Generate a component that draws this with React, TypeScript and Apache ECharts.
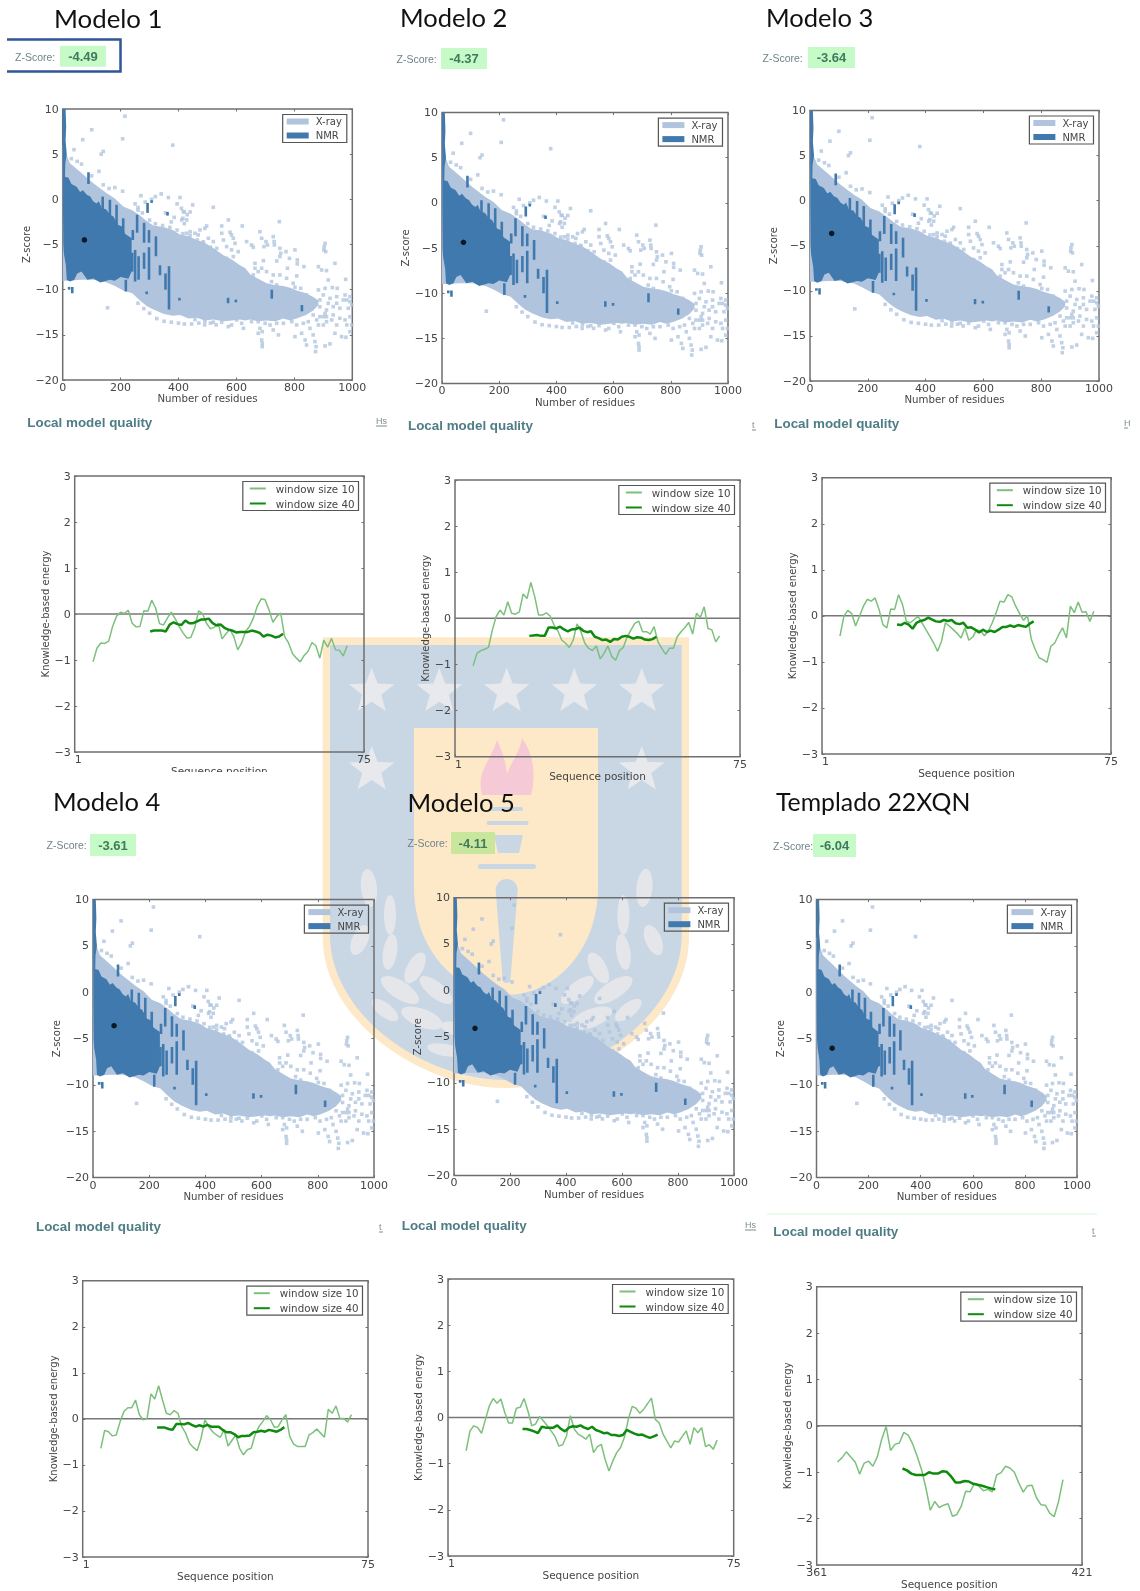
import React, { useEffect, useRef } from "react";
import * as echarts from "echarts";

// ---------- data ----------
const modelNames = ["Modelo 1", "Modelo 2", "Modelo 3", "Modelo 4", "Modelo 5", "Templado 22XQN"];
const zScores = ["-4.49", "-4.37", "-3.64", "-3.61", "-4.11", "-6.04"];
const modelResidues = [75, 75, 75, 75, 75, 60];
const modelZ = [-4.49, -4.37, -3.64, -3.61, -4.11, -6.04];

const xrayX = [0, 25, 60, 106, 152, 180, 209, 240, 267, 290, 313, 350, 380, 405, 435, 463, 490, 520, 555, 585, 612, 630, 647, 675, 704, 735, 762, 785, 808, 840, 865, 883];
const xrayUpper = [6, 4, 3.06, 1.77, 0.66, 0.1, -0.8, -1.2, -1.8, -2.4, -2.9, -3.1, -3.4, -3.9, -4.1, -4.5, -4.8, -5.4, -6.2, -6.7, -7.3, -7.6, -8.3, -8.8, -9.3, -9.5, -9.6, -9.8, -10.1, -10.4, -10.8, -11.2];
const xrayLower = [-9, -9, -8.9, -8.9, -9.2, -9.6, -10.1, -10.4, -11.2, -11.8, -12.2, -12.7, -12.9, -12.8, -13.2, -13.1, -13.4, -13.3, -13.5, -13.4, -13.3, -13.4, -13.3, -13.5, -13.4, -13.5, -13.2, -13.4, -13.2, -12.8, -12.3, -11.7];

const xrayPointsLeft = [
  [215, 9.2], [100, 7.7], [207, 6.7], [69, 6.6], [380, 6], [140, 5.3], [133, 5], [39, 5.5], [125, 3.1], [65, 3.9], [50, 4.2], [30, 4.5], [100, 2.6], [140, 1.6], [160, 1.2], [180, 1.3], [207, 0.9], [270, 0.4], [307, 0], [340, 0.6], [320, 0.3], [365, 0.2], [405, 0.2], [285, -0.3], [250, -0.5], [260, -0.9], [395, -0.5], [410, -1], [420, -1.4], [440, -1.4], [430, -1.7], [415, -2.1], [420, -2.7], [385, -2], [355, -1.5], [375, -2.5], [155, -12],
  [260, -1.2], [275, -1.5], [300, -2.3], [320, -2.7], [345, -2.9], [370, -3.1], [395, -3.4], [415, -3.8], [440, -4], [465, -4.5], [485, -4.7], [510, -5.3],
  [300, -12.6], [325, -13.2], [350, -13.5], [375, -13.6], [400, -13.7], [420, -13.8], [445, -13.8], [470, -13.7], [490, -13.9], [510, -13.7], [530, -13.9], [280, -12.1], [260, -11.5],
];
const xrayPointsUpperRight = [
  [416.5, -1.36], [428, -2.28], [411, -2.28], [449, -0.62], [520, -0.88], [572, -2.28], [620, -2.95], [497, -2.95], [491, -3.21], [474, -3.39], [457, -3.76], [468, -3.94], [440, -3.58], [428, -3.76], [549, -2.95], [549, -3.76], [578, -3.65], [583, -3.94], [589, -4.31], [595, -4.87], [555, -4.5], [520, -4.68], [503, -4.31], [486, -4.87], [532, -5.42], [566, -5.24], [583, -5.6], [606, -5.79], [589, -6.34], [566, -6.53], [578, -7.08], [595, -7.27], [543, -6.53], [520, -5.71],
  [635, -4.68], [652, -5.05], [658, -5.31], [681, -3.58], [687, -4.31], [702, -4.68], [707, -5.05], [695, -5.24], [727, -4.13], [730, -4.68], [731, -5.05], [748, -2.47], [750, -5.42], [753, -5.97], [750, -6.34], [771, -5.79], [802, -5.6], [783, -6.53], [810, -6.71], [810, -7.15], [833, -7.45], [739, -6.82], [693, -6.79], [664, -7.08], [664, -7.63], [675, -8], [687, -7.63], [658, -8.37], [704, -8], [727, -8.37], [776, -7.63], [808, -8.48], [750, -8.37], [773, -8.74], [796, -9.3], [802, -9.74], [822, -9.85], [842, -10.59], [721, -9.11], [739, -9.48],
  [906, -4.87], [903, -5.24], [902, -5.6], [908, -5.79], [940, -7.08], [883, -7.45], [894, -7.82], [911, -7.89], [917, -8.93], [977, -8.85], [883, -10.03], [906, -9.85], [931, -9.77], [948, -9.85], [900, -10.59], [923, -10.96], [946, -10.77], [975, -10.59], [992, -10.77], [992, -11.32], [981, -11.14], [998, -11.69],
];
const xrayPointsLowerRight = [
  [572, -14.09], [583, -13.91], [618, -13.72], [624, -14.28], [675, -13.54], [681, -14.28], [675, -14.83], [689, -14.65], [687, -15.57], [689, -15.94], [689, -16.31], [716, -13.91], [727, -14.46], [745, -15.01], [762, -13.72], [791, -13.54], [808, -13.91], [802, -15.2], [825, -14.83], [837, -15.57], [842, -16.12], [871, -15.75], [875, -16.31], [873, -16.86], [865, -15.01], [854, -14.28], [883, -13.91], [900, -13.91], [911, -13.54], [888, -12.99], [906, -12.62], [934, -12.8], [946, -13.91], [957, -13.17], [975, -13.35], [981, -13.91], [940, -14.83], [963, -15.2], [978, -15.27], [906, -16.23], [923, -16.01], [992, -14.65], [998, -13.91], [992, -12.99],
  [888, -11.9], [911, -12.25], [934, -11.88], [957, -12.06], [888, -11.14], [917, -11.51], [946, -11.51], [969, -11.14], [986, -12.06], [900, -12.99], [865, -12.8], [877, -13.35], [911, -12.99], [929, -13.35], [848, -13.54], [831, -13.72], [791, -12.98], [739, -13.72], [699, -13.72], [652, -13.54], [601, -13.35], [549, -13.6], [520, -13.6], [491, -13.5], [457, -13.3],
];

const nmrUpper = [[0, 10], [10, 10], [12, 8], [10, 6.5], [14, 5], [9, 4], [8, 2.5], [20, 2.4], [30, 1.7], [48, 1.4], [60, 0.8], [70, 1], [83, 0.5], [95, 0.3], [105, -0.2], [117, -0.45], [125, -0.2], [135, -1], [150, -1.1], [163, -1.7], [175, -1.9], [192, -2.85], [205, -3], [215, -3.8], [238, -4.3]];
const nmrLower = [[238, -8], [227, -8.8], [200, -8.6], [180, -9], [163, -8.9], [130, -9.2], [106, -8.75], [85, -8.9], [65, -8], [50, -8.2], [40, -8.9], [25, -9.1], [14, -8.9], [11, -7.3], [4, -6], [2, -5], [1, -1]];
const nmrColumns = [
  [89, 1.7, 3], [138, -2.3, 0.3], [163, -2.3, -0.05], [186, -3, -0.6], [209, -4.5, -2.1], [257, -3.7, -1.7], [293, -1.5, -0.4], [281, -4.8, -2.6], [242, -4.5, -3.4], [298, -4.8, -3.4], [322, -6.3, -4.1], [240, -8, -5.9], [250, -9.1, -5.6], [262, -8.9, -6.3], [281, -7.7, -5.9], [298, -8.9, -5.3], [336, -8.4, -7.3], [355, -10, -8.2], [367, -12.2, -7.4], [218, -10.2, -8.9], [33, -10.4, -9.7], [22, -10, -9.7], [290, -10.5, -10.2], [403, -11.2, -10.9], [571, -11.5, -10.9], [598, -11.4, -11.1], [722, -11, -10], [826, -12.4, -11.7], [307, -0.4, -0.1], [362, -1.8, -1.4],
];

const window10Starts = [5.7, 5.7, 5.6, 5.7, 5.7, 365.7];
const window40Starts = [20.3, 20.3, 20.2, 20.3, 20.3, 380.4];
const sequenceRanges = [[1, 75], [1, 75], [1, 75], [1, 75], [1, 75], [361, 421]];

const w10m1 = [-1.04, -0.74, -0.63, -0.64, -0.59, -0.27, -0.05, 0.04, 0.01, 0.08, -0.2, -0.28, -0.27, 0.07, 0.06, 0.3, 0.13, -0.21, -0.24, -0.09, 0.04, -0.1, -0.27, -0.41, -0.52, -0.51, -0.3, 0.07, 0.01, -0.2, -0.32, -0.29, -0.2, -0.54, -0.43, -0.33, -0.49, -0.78, -0.63, -0.38, -0.27, -0.09, 0.17, 0.33, 0.31, 0.09, -0.18, -0.05, 0.02, -0.49, -0.63, -0.86, -0.96, -1.04, -0.9, -0.81, -0.62, -0.69, -0.96, -0.57, -0.72, -0.53, -0.78, -0.79, -0.91, -0.69];
const w40m1 = [-0.38, -0.36, -0.36, -0.36, -0.38, -0.23, -0.18, -0.22, -0.24, -0.14, -0.2, -0.2, -0.16, -0.12, -0.12, -0.1, -0.2, -0.25, -0.23, -0.3, -0.34, -0.36, -0.4, -0.39, -0.39, -0.39, -0.36, -0.38, -0.41, -0.49, -0.45, -0.47, -0.51, -0.49, -0.43];
const w10m2 = [-1.03, -0.76, -0.7, -0.67, -0.63, -0.25, 0.04, 0.18, 0.07, 0.36, 0.11, 0.09, 0.14, 0.53, 0.43, 0.78, 0.47, 0.07, 0.07, 0.12, 0.05, -0.14, -0.27, -0.47, -0.54, -0.63, -0.47, -0.12, -0.29, -0.54, -0.65, -0.7, -0.6, -0.88, -0.76, -0.6, -0.83, -0.91, -0.7, -0.63, -0.4, -0.25, -0.11, -0.06, -0.29, -0.29, -0.34, -0.18, -0.51, -0.65, -0.78, -0.65, -0.65, -0.4, -0.29, -0.2, -0.09, -0.34, 0.11, 0.02, 0.25, -0.22, -0.25, -0.51, -0.38];
const w40m2 = [-0.38, -0.37, -0.36, -0.38, -0.38, -0.2, -0.2, -0.22, -0.18, -0.24, -0.28, -0.24, -0.23, -0.2, -0.27, -0.3, -0.28, -0.4, -0.43, -0.47, -0.46, -0.51, -0.45, -0.46, -0.4, -0.38, -0.4, -0.44, -0.41, -0.42, -0.46, -0.47, -0.45, -0.4];
const w10m3 = [-0.44, -0.01, 0.12, 0.05, -0.22, -0.01, 0.21, 0.36, 0.32, 0.39, 0.14, -0.19, -0.26, 0.15, 0.14, 0.46, 0.25, -0.12, -0.15, -0.08, -0.01, -0.15, -0.3, -0.44, -0.59, -0.77, -0.55, -0.15, -0.22, -0.3, -0.38, -0.48, -0.26, -0.53, -0.46, -0.3, -0.33, -0.43, -0.33, -0.15, 0.07, 0.32, 0.3, 0.46, 0.41, 0.21, 0.05, -0.1, 0.01, -0.51, -0.73, -0.91, -0.95, -1.01, -0.66, -0.59, -0.41, -0.26, -0.48, 0.21, 0.07, 0.3, 0.08, 0.09, -0.12, 0.1];
const w40m3 = [-0.19, -0.2, -0.15, -0.19, -0.28, -0.15, -0.11, -0.09, -0.04, -0.08, -0.12, -0.13, -0.09, -0.11, -0.09, -0.16, -0.18, -0.15, -0.26, -0.25, -0.3, -0.36, -0.3, -0.35, -0.32, -0.35, -0.3, -0.24, -0.24, -0.21, -0.24, -0.2, -0.22, -0.24, -0.17, -0.12];
const w10m4 = [-0.64, -0.25, -0.28, -0.37, -0.35, -0.06, 0.16, 0.24, 0.24, 0.41, 0.09, -0.02, 0.01, 0.54, 0.43, 0.72, 0.41, 0.12, 0.09, 0.18, 0.12, -0.17, -0.31, -0.53, -0.62, -0.69, -0.42, -0.02, -0.17, -0.28, -0.35, -0.4, -0.24, -0.59, -0.47, -0.35, -0.64, -0.78, -0.67, -0.64, -0.35, -0.17, -0.06, 0.07, -0.02, -0.18, -0.17, -0.02, 0.09, -0.38, -0.55, -0.6, -0.6, -0.6, -0.35, -0.3, -0.22, -0.31, -0.4, 0.21, 0.12, 0.28, 0.01, 0.01, -0.07, 0.09];
const w40m4 = [-0.19, -0.19, -0.19, -0.22, -0.24, -0.11, -0.11, -0.12, -0.09, -0.13, -0.17, -0.14, -0.17, -0.13, -0.17, -0.17, -0.17, -0.24, -0.29, -0.29, -0.33, -0.4, -0.37, -0.37, -0.36, -0.29, -0.28, -0.26, -0.28, -0.24, -0.26, -0.28, -0.24, -0.18];
const w10m5 = [-0.72, -0.29, -0.18, -0.22, -0.34, -0.04, 0.25, 0.41, 0.31, 0.4, 0.11, -0.12, -0.12, 0.2, 0.22, 0.41, 0.14, -0.18, -0.14, 0.02, -0.07, -0.18, -0.29, -0.41, -0.62, -0.59, -0.4, 0.04, -0.25, -0.36, -0.41, -0.47, -0.36, -0.76, -0.63, -0.58, -0.91, -1.16, -0.94, -0.76, -0.65, -0.43, -0.04, 0.24, 0.2, 0.09, 0.18, 0.3, 0.42, -0.04, -0.12, -0.36, -0.51, -0.66, -0.51, -0.53, -0.41, -0.29, -0.58, -0.22, -0.33, -0.22, -0.63, -0.59, -0.69, -0.49];
const w40m5 = [-0.25, -0.25, -0.27, -0.3, -0.34, -0.2, -0.22, -0.22, -0.22, -0.17, -0.25, -0.3, -0.22, -0.19, -0.2, -0.17, -0.22, -0.25, -0.2, -0.27, -0.3, -0.34, -0.33, -0.38, -0.38, -0.4, -0.38, -0.27, -0.31, -0.35, -0.38, -0.37, -0.41, -0.44, -0.41, -0.37];
const w10m6 = [-0.78, -0.69, -0.56, -0.67, -0.78, -1.04, -0.81, -0.76, -0.87, -0.67, -0.29, -0.01, -0.53, -0.4, -0.37, -0.14, -0.2, -0.39, -0.65, -0.94, -1.34, -1.82, -1.63, -1.76, -1.71, -1.68, -1.95, -1.91, -1.73, -1.41, -1.42, -1.24, -1.3, -1.4, -1.37, -1.42, -1.06, -1.01, -0.87, -0.91, -1.0, -1.23, -1.43, -1.29, -1.28, -1.55, -1.7, -1.71, -1.88, -1.96, -1.63, -1.16];
const w40m6 = [-0.92, -0.96, -1.03, -1.06, -1.06, -1.06, -1, -1.03, -1.03, -0.98, -0.99, -1.09, -1.22, -1.22, -1.19, -1.2, -1.25, -1.27, -1.29, -1.32, -1.35, -1.37];
const window10 = [w10m1, w10m2, w10m3, w10m4, w10m5, w10m6];
const window40 = [w40m1, w40m2, w40m3, w40m4, w40m5, w40m6];

const scatterYTicks = { min: -20, max: 10, step: 5 };
const energyYTicks = { min: -3, max: 3, step: 1 };

// ---------- layout ----------
const scatterFrames = [[62.7, 109, 352.3, 380], [442, 112.6, 728, 383.4], [810, 110.5, 1099, 381], [93, 899.6, 374, 1177.5], [454, 897.7, 734, 1175.4], [816.5, 899.6, 1077, 1177.5]];
const lineFrames = [[74.7, 476, 364, 752], [455, 480, 740, 756.7], [822, 477.7, 1111, 754], [82.7, 1280.7, 368, 1557], [448, 1279, 733.7, 1556], [816.7, 1286.7, 1082, 1565]];
const titlePos = [[54, 17.5], [400, 17], [766, 17], [53, 801], [407.5, 801.5], [776, 801]];
const titleSizes = [25.8, 25.5, 25.5, 25.5, 25.5, 24.8];
const zLabelPos = [[15, 57], [396.5, 58.5], [762.5, 57.5], [46.5, 845], [407.5, 843], [773, 845.5]];
const zBoxes = [[60, 45.7, 46, 21], [441, 48, 46, 21], [808, 47, 47, 21], [90, 834, 46, 22], [451, 832, 44, 22], [813, 834, 43, 23]];
const qualityPos = [[27.3, 422], [408, 425.7], [774.3, 423], [36, 1226.7], [401.7, 1225], [773.3, 1231]];
const linkPos = [[376, 421, "Hs"], [752, 425, "t"], [1124, 423, "H"], [379, 1227, "t"], [745, 1225, "Hs"], [1092, 1231, "t"]];

const FRAME = "#6f6f6f";
const TEXT = "#454545";
const MONO = "DejaVu Sans";
const XRAY = "#b0c4de";
const NMR = "#4079ae";
const LEAF = "#e4e6ea";
const BLUE = "#c9d6e4";
const CREAM = "#fde9c8";

const minusFmt = (v: number) => String(v).replace("-", "\u2212");

echarts.graphic.registerShape("shieldOuter", echarts.graphic.extendPath("M322.7 637.3 H689 V937 C689 1020 592 1088 506 1088 C420 1088 322.7 1020 322.7 937 Z", {}));
echarts.graphic.registerShape("shieldInner", echarts.graphic.extendPath("M330 645 H681.7 V935 C681.7 1014 590 1080 506 1080 C422 1080 330 1014 330 935 Z", {}));
echarts.graphic.registerShape("shieldPanel", echarts.graphic.extendPath("M414 728 H598 V887 C598 950 555 995 506 995 C457 995 414 950 414 887 Z", {}));
echarts.graphic.registerShape("flame", echarts.graphic.extendPath("M482 795 C476 772 490 762 497 740 C503 752 506 764 507 774 C511 762 520 752 522 738 C532 752 537 772 531 795 Z", {}));
echarts.graphic.registerShape("torchHandle", echarts.graphic.extendPath("M495.7 890 A11 11 0 0 1 517.7 890 L510.5 979 A4 4 0 0 1 502.5 979 Z", {}));

function starPoints(cx: number, cy: number, r: number) {
  const pts: number[][] = [];
  for (let i = 0; i < 10; i++) {
    const a = -Math.PI / 2 + (i * Math.PI) / 5;
    const rr = i % 2 === 0 ? r : r * 0.42;
    pts.push([cx + rr * Math.cos(a), cy + rr * Math.sin(a)]);
  }
  return pts;
}

function watermark(): any[] {
  const z = -10;
  const els: any[] = [
    { type: "shieldOuter", x: 0, y: 0, z, silent: true, style: { fill: CREAM } },
    { type: "shieldInner", x: 0, y: 0, z, silent: true, style: { fill: BLUE } },
    { type: "shieldPanel", x: 0, y: 0, z, silent: true, style: { fill: CREAM } },
    { type: "flame", x: 0, y: 0, z, silent: true, style: { fill: "#f6c9d6" } },
    { type: "torchHandle", x: 0, y: 0, z, silent: true, style: { fill: BLUE } },
    { type: "rect", z, silent: true, shape: { x: 490, y: 807, width: 33, height: 4, r: 2 }, style: { fill: BLUE } },
    { type: "rect", z, silent: true, shape: { x: 486.5, y: 821, width: 42, height: 4, r: 2 }, style: { fill: BLUE } },
    { type: "polygon", z, silent: true, shape: { points: [[494, 835], [523, 835], [519, 853], [498, 853]] }, style: { fill: BLUE } },
    { type: "rect", z, silent: true, shape: { x: 478, y: 864, width: 58, height: 5, r: 2.5 }, style: { fill: BLUE } },
  ];
  [[371.7, 691.7], [439.3, 691.7], [506.7, 691.7], [574.3, 691.7], [641.7, 691.7], [371.7, 770], [641.7, 770]].forEach(([cx, cy]) =>
    els.push({ type: "polygon", z, silent: true, shape: { points: starPoints(cx, cy, 24) }, style: { fill: "#e7e9ed" } })
  );
  // laurel leaves, mirrored around the shield's axis
  const leaves = [[369, 888, 8, 19, 0.1], [390, 915, 6, 20, 0], [360, 940, 8, 16, -0.4], [390, 952, 7, 18, -0.15], [415, 968, 8, 17, -0.5], [400, 990, 9, 22, 1.0], [436, 990, 8, 20, 0.9], [385, 1010, 7, 16, 0.9], [422, 1018, 9, 22, 1.2], [460, 1030, 7, 20, 1.3], [445, 1050, 6, 18, 1.4]];
  leaves.forEach(([cx, cy, rx, ry, rot]) => {
    els.push({ type: "ellipse", z, silent: true, x: cx, y: cy, rotation: rot, shape: { cx: 0, cy: 0, rx, ry }, style: { fill: LEAF } });
    els.push({ type: "ellipse", z, silent: true, x: 1013.4 - cx, y: cy, rotation: -rot, shape: { cx: 0, cy: 0, rx, ry }, style: { fill: LEAF } });
  });
  return els;
}

function labels(): any[] {
  const els: any[] = [];
  const z = 20;
  const txt = (x: number, y: number, text: string, font: string, fill: string) => ({
    type: "text", x, y, z, silent: true, style: { text, font, fill, align: "left", verticalAlign: "middle" },
  });
  modelNames.forEach((name, i) => {
    els.push(txt(titlePos[i][0], titlePos[i][1], name, `${titleSizes[i]}px Lato`, "#111"));
    const [bx, by, bw, bh] = zBoxes[i];
    els.push({ type: "rect", z, silent: true, shape: { x: bx, y: by, width: bw, height: bh }, style: { fill: i === 4 ? "#c9e79c" : "#c6fac6" } });
    els.push({ type: "text", x: bx + bw / 2, y: by + bh / 2, z, silent: true, style: { text: zScores[i], font: "bold 13px 'Liberation Sans'", fill: "#3f7a5f", align: "center", verticalAlign: "middle" } });
    els.push(txt(zLabelPos[i][0], zLabelPos[i][1], "Z-Score:", "10.5px 'Liberation Sans'", "#6f8488"));
    els.push(txt(qualityPos[i][0], qualityPos[i][1], "Local model quality", "bold 13.4px 'Liberation Sans'", "#4f7d85"));
    const [lx, ly, ls] = linkPos[i] as [number, number, string];
    els.push(txt(lx, ly, ls, "9px 'Liberation Sans'", "#7d8d90"));
    els.push({ type: "line", z, silent: true, shape: { x1: lx, y1: ly + 5, x2: lx + (ls === "Hs" ? 11 : 4), y2: ly + 5 }, style: { stroke: "#7d8d90", lineWidth: 1 } });
  });
  els.push({ type: "polyline", z, silent: true, shape: { points: [[7, 39.5], [120.5, 39.5], [120.5, 71.5], [7, 71.5]] }, style: { stroke: "#2f5597", lineWidth: 2.5, fill: "none" } });
  els.push({ type: "line", z, silent: true, shape: { x1: 767, y1: 1214, x2: 1097, y2: 1214 }, style: { stroke: "#d7f5d7", lineWidth: 1 } });
  // the reference crops the first x-axis title with its next title block
  els.push({ type: "rect", z: 30, silent: true, shape: { x: 160, y: 772, width: 120, height: 5 }, style: { fill: "#fff" } });
  return els;
}

const polygonItem = (pts: number[][]) => (params: any, api: any) => {
  if (params.dataIndex !== 0) return undefined;
  return { type: "polygon", shape: { points: pts.map((p) => api.coord(p)) }, style: { fill: api.visual("color") } };
};

const columnItem = (params: any, api: any) => {
  const a = api.coord([api.value(0), api.value(1)]);
  const b = api.coord([api.value(0), api.value(2)]);
  return { type: "rect", shape: { x: a[0] - 1.3, y: b[1], width: 2.6, height: a[1] - b[1] }, style: { fill: api.visual("color") } };
};

function buildOption() {
  const grid: any[] = [], xAxis: any[] = [], yAxis: any[] = [], series: any[] = [], legend: any[] = [];
  const tickStyle = { color: FRAME, width: 1 };
  const hiddenLine = { show: false, onZero: false };
  const xrayPolygon = [...xrayX.map((x, k) => [x, xrayUpper[k]]), ...xrayX.map((x, k) => [x, xrayLower[k]]).reverse()];
  const nmrPolygon = [...nmrUpper, ...nmrLower];
  const xrayPoints = [...xrayPointsLeft, ...xrayPointsUpperRight, ...xrayPointsLowerRight];

  const addPanel = (frame: number[], xCfg: any, yCfg: any) => {
    const [l, t, r, b] = frame;
    const g = grid.length;
    grid.push({ left: l, top: t, width: r - l, height: b - t, show: true, borderColor: FRAME, borderWidth: 1.5, backgroundColor: "transparent", containLabel: false });
    const ax = xAxis.length, ay = yAxis.length;
    const custom = xCfg.customValues ? { customValues: xCfg.customValues } : {};
    xAxis.push({ type: "value", gridIndex: g, position: "bottom", axisLine: hiddenLine, splitLine: { show: false }, axisTick: { inside: true, length: 2.5, lineStyle: tickStyle, ...custom }, ...xCfg.axis,
      axisLabel: { color: TEXT, fontFamily: MONO, fontSize: 11, margin: 2, hideOverlap: false, formatter: (v: number) => String(v), ...custom, ...(xCfg.labelExtra || {}) },
      name: xCfg.name, nameLocation: "middle", nameGap: xCfg.nameGap, nameTextStyle: { color: TEXT, fontFamily: MONO, fontSize: xCfg.nameSize } });
    xAxis.push({ type: "value", gridIndex: g, position: "top", axisLine: hiddenLine, splitLine: { show: false }, axisLabel: { show: false }, axisTick: { inside: true, length: 2.5, lineStyle: tickStyle, ...custom }, ...xCfg.axis });
    yAxis.push({ type: "value", gridIndex: g, position: "left", min: yCfg.min, max: yCfg.max, interval: yCfg.step, axisLine: hiddenLine, splitLine: { show: false }, axisTick: { inside: true, length: 2.5, lineStyle: tickStyle },
      axisLabel: { color: TEXT, fontFamily: MONO, fontSize: 11, margin: 4, formatter: minusFmt },
      name: yCfg.name, nameLocation: "middle", nameGap: yCfg.nameGap, nameTextStyle: { color: TEXT, fontFamily: MONO, fontSize: 10 } });
    yAxis.push({ type: "value", gridIndex: g, position: "right", min: yCfg.min, max: yCfg.max, interval: yCfg.step, axisLine: hiddenLine, splitLine: { show: false }, axisLabel: { show: false }, axisTick: { inside: true, length: 2.5, lineStyle: tickStyle } });
    return { xAxisIndex: ax, yAxisIndex: ay, right: 1140 - r + 5.5, top: t + 5.5 };
  };

  scatterFrames.forEach((frame, i) => {
    const p = addPanel(frame,
      { axis: { min: 0, max: 1000, interval: 200 }, name: "Number of residues", nameGap: 11.5, nameSize: 10.2 },
      { ...scatterYTicks, name: "Z-score", nameGap: 25 });
    const axes = { xAxisIndex: p.xAxisIndex, yAxisIndex: p.yAxisIndex };
    const op = i === 4 ? 0.86 : 1;
    series.push({ type: "custom", name: "X-ray", ...axes, coordinateSystem: "cartesian2d", clip: true, renderItem: polygonItem(xrayPolygon), data: xrayPolygon, encode: { x: 0, y: 1 }, itemStyle: { color: XRAY, opacity: op }, z: 2 });
    series.push({ type: "scatter", name: "X-ray", ...axes, data: xrayPoints, symbol: "rect", symbolSize: 3.6, itemStyle: { color: XRAY }, z: 2, silent: true });
    series.push({ type: "custom", name: "NMR", ...axes, coordinateSystem: "cartesian2d", clip: true, renderItem: polygonItem(nmrPolygon), data: nmrPolygon, encode: { x: 0, y: 1 }, itemStyle: { color: NMR, opacity: op }, z: 3 });
    series.push({ type: "custom", name: "NMR", ...axes, coordinateSystem: "cartesian2d", clip: true, renderItem: columnItem, data: nmrColumns, encode: { x: 0, y: [1, 2] }, itemStyle: { color: NMR }, z: 3 });
    series.push({ type: "scatter", name: "model", ...axes, data: [[modelResidues[i], modelZ[i]]], symbol: "circle", symbolSize: 5.5, itemStyle: { color: "#000" }, z: 5, silent: true });
    legend.push({ data: ["X-ray", "NMR"], orient: "vertical", right: p.right, top: p.top, icon: "rect", itemWidth: 22, itemHeight: 6, itemGap: 4, padding: [2, 5, 2, 4], borderColor: "#555", borderWidth: 1.2, backgroundColor: "transparent", selectedMode: false, textStyle: { fontFamily: MONO, fontSize: 10, color: TEXT, padding: [0, 0, 0, 2] } });
  });

  lineFrames.forEach((frame, i) => {
    const [lo, hi] = sequenceRanges[i];
    const p = addPanel(frame,
      { axis: { min: lo, max: hi }, customValues: [lo, hi], labelExtra: lo === 1 ? { alignMinLabel: "left" } : {}, name: "Sequence position", nameGap: 10.5, nameSize: 10.5 },
      { ...energyYTicks, name: "Knowledge-based energy", nameGap: 24.5 });
    const axes = { xAxisIndex: p.xAxisIndex, yAxisIndex: p.yAxisIndex };
    series.push({ type: "line", name: "zero", ...axes, data: [[lo, 0], [hi, 0]], symbol: "none", lineStyle: { color: "#777", width: 1.5 }, z: 2, silent: true });
    series.push({ type: "line", name: "window size 10", ...axes, data: window10[i].map((v, k) => [window10Starts[i] + k, v]), symbol: "none", lineStyle: { color: "#7cc07c", width: 1.5 }, itemStyle: { color: "#7cc07c" }, z: 3, silent: true });
    series.push({ type: "line", name: "window size 40", ...axes, data: window40[i].map((v, k) => [window40Starts[i] + k, v]), symbol: "none", lineStyle: { color: "#0f8a0f", width: 2.5 }, itemStyle: { color: "#0f8a0f" }, z: 4, silent: true });
    legend.push({ data: ["window size 10", "window size 40"], orient: "vertical", right: p.right, top: p.top, itemWidth: 16, itemHeight: 10, itemGap: 5, padding: [2, 4, 2, 6], borderColor: "#555", borderWidth: 1.2, backgroundColor: "transparent", selectedMode: false, itemStyle: { opacity: 0 }, textStyle: { fontFamily: MONO, fontSize: 10.3, color: TEXT, padding: [0, 0, 0, 5] } });
  });

  return { animation: false, backgroundColor: "transparent", grid, xAxis, yAxis, series, legend, graphic: { elements: [...watermark(), ...labels()] }, tooltip: { show: false } };
}

export default function App() {
  const ref = useRef<HTMLDivElement>(null);
  useEffect(() => {
    document.body.style.margin = "0";
    const chart = echarts.init(ref.current!, undefined, { renderer: "svg" });
    chart.setOption(buildOption() as any);
    return () => chart.dispose();
  }, []);
  return <div ref={ref} style={{ position: "absolute", left: 0, top: 0, width: 1140, height: 1591, background: "#fff", filter: "blur(0.5px)" }} />;
}
